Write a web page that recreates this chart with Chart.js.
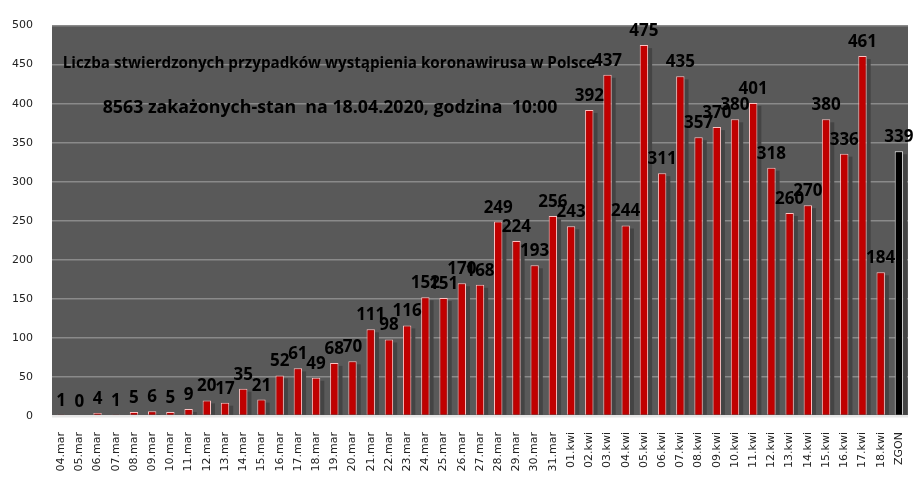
<!DOCTYPE html>
<html>
<head>
<meta charset="utf-8">
<script src="https://cdn.jsdelivr.net/npm/chart.js@4"></script>
<style>
  body { margin: 0; background: #fff; }
  canvas { display: block; }
</style>
</head>
<body>
<canvas id="chart" width="921" height="479"></canvas>
<script>
const days = [
  "04.mar", "05.mar", "06.mar", "07.mar", "08.mar", "09.mar", "10.mar", "11.mar",
  "12.mar", "13.mar", "14.mar", "15.mar", "16.mar", "17.mar", "18.mar", "19.mar",
  "20.mar", "21.mar", "22.mar", "23.mar", "24.mar", "25.mar", "26.mar", "27.mar",
  "28.mar", "29.mar", "30.mar", "31.mar",
  "01.kwi", "02.kwi", "03.kwi", "04.kwi", "05.kwi", "06.kwi", "07.kwi", "08.kwi",
  "09.kwi", "10.kwi", "11.kwi", "12.kwi", "13.kwi", "14.kwi", "15.kwi", "16.kwi",
  "17.kwi", "18.kwi", "ZGON"
];
const cases = [
  1, 0, 4, 1, 5, 6, 5, 9,
  20, 17, 35, 21, 52, 61, 49, 68,
  70, 111, 98, 116, 152, 151, 170, 168,
  249, 224, 193, 256,
  243, 392, 437, 244, 475, 311, 435, 357,
  370, 380, 401, 318, 260, 270, 380, 336,
  461, 184, 339
];
const yTicks = [0, 50, 100, 150, 200, 250, 300, 350, 400, 450, 500];

const titleLine1 = "Liczba stwierdzonych przypadków wystąpienia koronawirusa w Polsce";
const titleLine2 = "8563 zakażonych-stan  na 18.04.2020, godzina  10:00";

const barColors = days.map(d => d === "ZGON" ? "#000000" : "#c00000");
const borderColors = days.map(d => d === "ZGON" ? "#e8e8e8" : "#ffc0c0");

// grey wall behind the bars
const wallPlugin = {
  id: "wall",
  beforeDraw(chart) {
    const a = chart.chartArea;
    const c = chart.ctx;
    c.save();
    c.fillStyle = "#595959";
    c.fillRect(a.left, a.top, a.right - a.left, a.bottom - a.top);
    c.restore();
  }
};

// depth shadow of each bar + value labels + title text
const labelPlugin = {
  id: "labels",
  beforeDatasetsDraw(chart) {
    const c = chart.ctx;
    const meta = chart.getDatasetMeta(0);
    c.save();
    c.fillStyle = "#444444";
    meta.data.forEach(bar => {
      const h = bar.base - bar.y - 3;
      if (h > 0) c.fillRect(bar.x + bar.width / 2, bar.y + 3, 4, h);
    });
    c.restore();
  },
  afterDatasetsDraw(chart) {
    const c = chart.ctx;
    const meta = chart.getDatasetMeta(0);
    c.save();
    c.fillStyle = "#000";
    c.textAlign = "center";
    c.textBaseline = "alphabetic";
    c.font = "bold 17px 'Open Sans'";
    meta.data.forEach((bar, i) => {
      c.fillText(String(cases[i]), bar.x, bar.y - 9);
    });
    c.font = "bold 15.2px 'Open Sans'";
    c.fillText(titleLine1, 329, 68);
    c.font = "bold 17.8px 'Open Sans'";
    c.fillText(titleLine2, 330, 113);
    c.restore();
  }
};

const ctx = document.getElementById("chart").getContext("2d");
new Chart(ctx, {
  type: "bar",
  data: {
    labels: days,
    datasets: [{
      data: cases,
      backgroundColor: barColors,
      borderColor: borderColors,
      borderWidth: 1,
      barPercentage: 0.46,
      categoryPercentage: 1
    }]
  },
  options: {
    responsive: false,
    animation: false,
    layout: { padding: { top: 17, right: 13, left: 0, bottom: 0 } },
    plugins: {
      legend: { display: false },
      tooltip: { enabled: false }
    },
    scales: {
      x: {
        grid: { display: false },
        border: { display: false },
        ticks: {
          color: "#222",
          font: { family: "DejaVu Sans", size: 11 },
          minRotation: 90,
          maxRotation: 90,
          autoSkip: false,
          padding: 8
        },
        afterFit(scale) { scale.height = 63; }
      },
      y: {
        min: 0,
        max: 500,
        border: { display: false },
        grid: {
          drawTicks: false,
          color: ctx => ctx.tick.value === 0 ? "#e6e6e6" : "#8a8a8a",
          lineWidth: ctx => ctx.tick.value === 0 ? 2.5 : 1.5
        },
        afterBuildTicks(scale) { scale.ticks = yTicks.map(v => ({ value: v })); },
        ticks: {
          color: "#222",
          font: { family: "DejaVu Sans", size: 11 },
          padding: 19
        },
        afterFit(scale) { scale.width = 52; }
      }
    }
  },
  plugins: [wallPlugin, labelPlugin]
});
</script>
</body>
</html>
